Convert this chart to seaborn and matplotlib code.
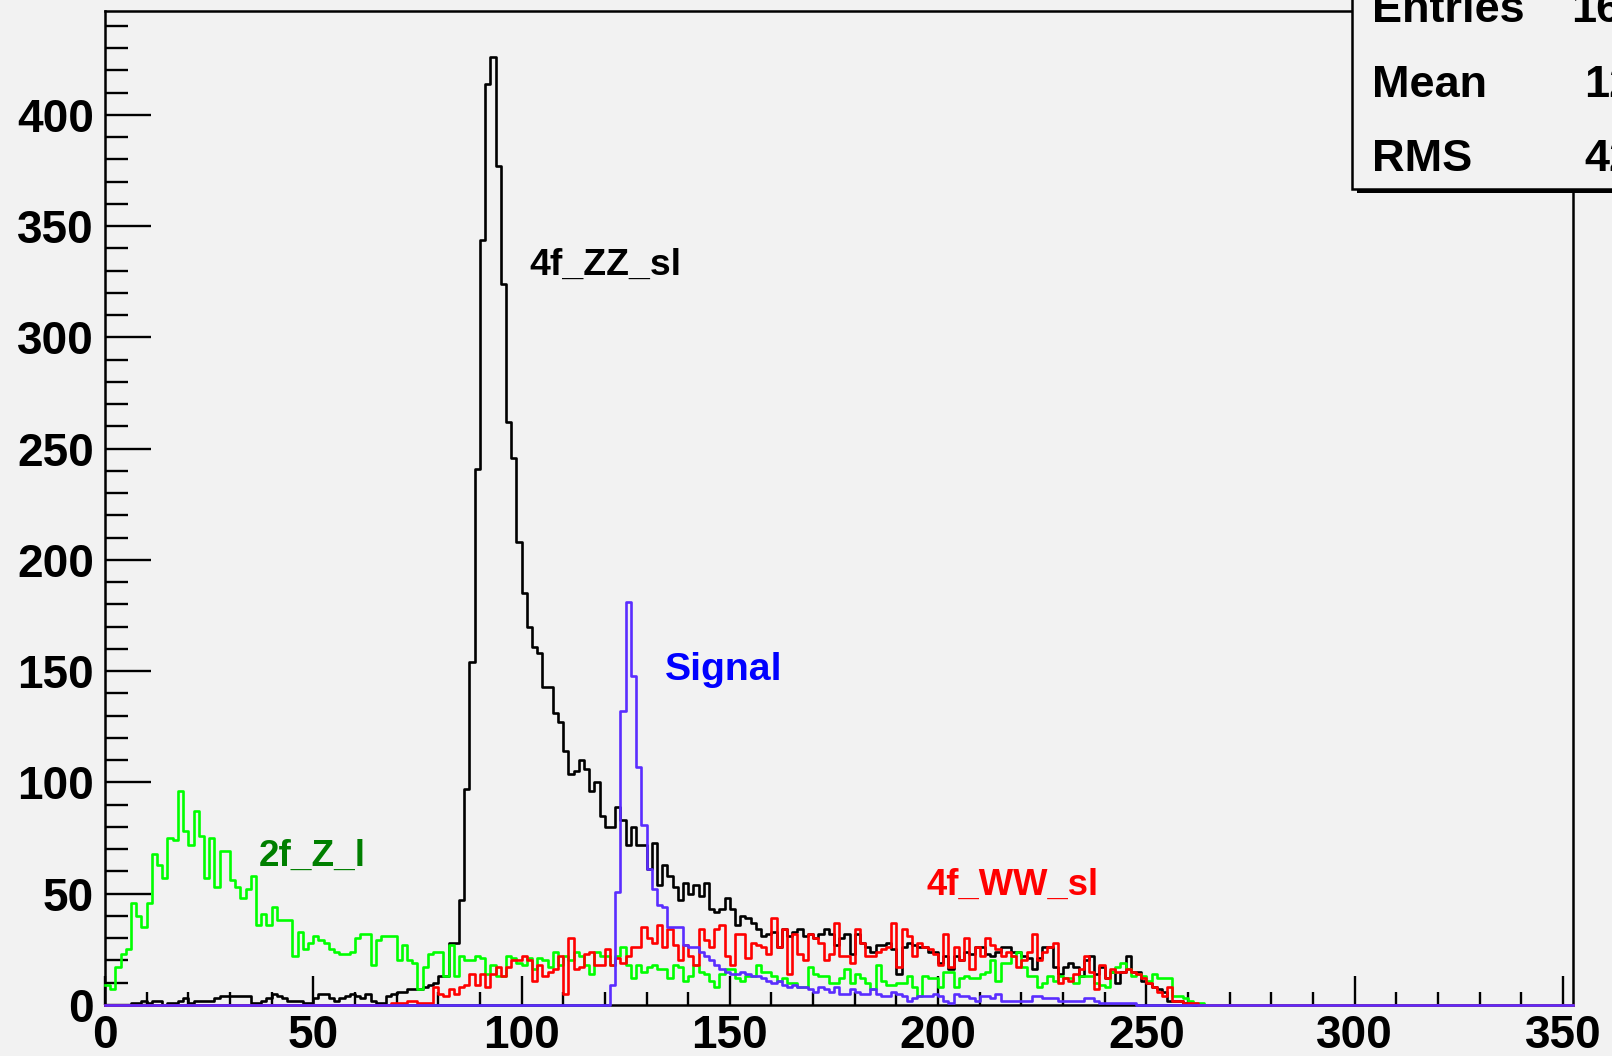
import numpy as np
import pandas as pd
import matplotlib
matplotlib.use("Agg")
import matplotlib.pyplot as plt
from matplotlib import font_manager as fm
from matplotlib.patches import Rectangle
from matplotlib.ticker import MultipleLocator
import seaborn as sns

# ---------------- data (bin contents) ----------------
BIN_WIDTH = 1.25
X_MAX = 352.5
Y_MAX = 446.7

# 4f_ZZ_sl (black), first bin index 0
zz_start = 0
zz_counts = [0, 0, 0, 0, 0, 1, 1, 2, 1, 2, 2, 0, 1, 1, 2, 3, 1, 2, 2, 2,
             2, 3, 4, 4, 4, 4, 4, 4, 1, 1, 2, 3, 5, 4, 3, 2, 2, 2, 1, 1,
             3, 5, 5, 3, 2, 3, 4, 5, 4, 3, 5, 2, 1, 1, 4, 5, 6, 6, 7, 7,
             7, 8, 9, 10, 13, 13, 28, 28, 47, 97,
             154, 241, 344, 414, 426, 377, 324, 262, 246, 208,
             185, 170, 161, 158, 143, 143, 131, 127, 114, 104,
             105, 110, 106, 96, 100, 85, 80, 80, 89, 83,
             72, 80, 72, 72, 61, 73, 54, 63, 58, 53,
             47, 55, 50, 54, 49, 55, 43, 42, 43, 48, 43, 36,
             40, 39, 37, 34, 31, 32, 33, 26, 34, 31, 33, 34, 31, 32, 30, 32, 34, 32, 27, 30,
             32, 23, 32, 28, 26, 24, 27, 27, 28, 25, 14, 26, 28, 27, 26, 26, 24, 24, 19, 22,
             16, 22, 20, 24, 23, 26, 26, 23, 22, 24,
             26, 26, 24, 24, 22, 21, 16, 21, 26, 26, 17, 14, 17, 19, 17, 13, 20, 22, 14, 17,
             12, 15, 10, 15, 22, 15, 15, 11, 10, 8, 7, 6, 2, 2, 2, 1, 1]

# 2f_Z_l (green), first bin index 0
zl_start = 0
zl_counts = [9, 7, 17, 23, 25, 46, 40, 35, 46, 68, 63, 57, 75, 74, 96, 78, 72, 87, 76, 57,
             75, 53, 69, 69, 56, 53, 48, 52, 58, 36, 41, 36, 44, 38, 38, 38, 22, 33, 25, 28,
             31, 29, 28, 25, 24, 23, 23, 24, 30, 32, 32, 18, 29, 31, 31, 31, 20, 27, 20, 19,
             7, 17, 23,
             24, 24, 13, 27, 13, 22, 20, 20, 22, 21, 14, 18, 13, 13, 22, 21, 19, 18, 21, 16,
             21, 20, 17, 24, 18, 22, 20, 24, 22, 18, 14, 24, 22, 22, 18, 22, 26, 18, 12, 18,
             15, 17, 18, 16, 16, 12, 18, 17, 11, 13, 18, 15, 14, 11, 8, 14, 16, 16, 12, 11,
             13, 13,
             18, 15, 15, 13, 11, 12, 10, 10, 8, 8, 17, 14, 13, 13, 10, 10, 12, 16, 10, 14,
             12, 10, 7, 18, 11, 9, 9, 10, 10, 13, 8, 4, 13, 12, 12, 8, 15, 15, 8, 12,
             13, 12, 12, 14, 15, 20, 11,
             19, 19, 22, 24, 17, 13, 13, 8, 10, 13, 11, 13, 12, 12, 10, 13, 13, 13, 10, 9,
             8, 15, 17, 19, 16, 13, 14, 13, 11, 14, 12, 12, 12, 4, 4, 3, 2, 1, 1]

# 4f_WW_sl (red), first bin index 55
ww_start = 55
ww_counts = [1, 1, 1, 2, 2, 1, 1, 1,
             8, 5, 4, 7, 5, 8, 9, 14, 9, 14, 8, 14, 17, 13, 17, 20, 20, 22, 20, 11,
             18, 13, 15, 16, 22, 5, 30, 16, 17, 23, 24, 18, 18, 25, 18, 21, 19, 22, 26, 26,
             35, 30, 28, 36, 26, 34, 27, 20, 27, 22, 18, 34, 29, 26, 34, 36, 22, 18, 32,
             32, 21, 28, 27, 26, 23, 39, 26, 34, 14, 32, 23, 20, 32, 30, 28, 20, 23, 37, 22,
             22, 19, 34, 28, 22, 22, 24, 25, 26, 37, 17, 34, 31, 22, 28, 26, 25, 23, 18, 32,
             17, 26, 20, 30, 16, 26, 22, 30, 27, 25,
             22, 24, 22, 17, 20, 24, 32, 20, 24, 26, 28, 10, 12, 11, 14, 16, 22, 15, 7, 18,
             12, 16, 15, 15, 16, 15, 14, 12, 10, 8, 6, 4, 8, 2, 2, 1, 1, 1, 0]

# Signal (blue), first bin index 97
sig_start = 97
sig_counts = [9, 51, 132, 181, 148, 107, 81, 61, 52, 45, 44, 35, 35, 35, 27, 26, 26, 24, 22, 20,
              18, 16, 15, 14, 14,
              15, 14, 13, 13, 12, 11, 10, 11, 9, 8, 9, 8, 8, 7, 6, 8, 7, 6, 8, 5,
              5, 7, 6, 5, 5, 7, 5, 4, 4, 6, 5, 4, 2, 3, 4, 4, 4, 5, 4, 2,
              1, 5, 4, 4, 3, 2, 4, 4, 3, 5,
              2, 2, 2, 2, 2, 2, 4, 4, 3, 3, 3, 2, 2, 2, 2, 2, 3, 3, 2, 1,
              1, 1, 1, 1, 1, 1, 0, 0]

series_names = ["4f_ZZ_sl", "2f_Z_l", "4f_WW_sl", "Signal"]
x_ticks = [0, 50, 100, 150, 200, 250, 300, 350]
y_ticks = [0, 50, 100, 150, 200, 250, 300, 350, 400]
stat_names = ["Entries", "Mean", "RMS"]
stat_values = ["16540", "124.3", "42.58"]

# ---------------- styling ----------------
W, H = 1612, 1056
BG = "#f2f2f2"
LINE_COLORS = {"4f_ZZ_sl": "#000000", "2f_Z_l": "#00ff00",
               "4f_WW_sl": "#ff0000", "Signal": "#5a2dff"}
TEXT_COLORS = {"4f_ZZ_sl": "#000000", "2f_Z_l": "#007f00",
               "4f_WW_sl": "#ff0000", "Signal": "#0000ff"}
# label anchor (left, baseline) in data units
LABEL_POS = {"4f_ZZ_sl": (101.8, 328), "Signal": (134.4, 146),
             "2f_Z_l": (37.0, 62.5), "4f_WW_sl": (197.3, 49.4)}
LABEL_SIZE = {"4f_ZZ_sl": 32.4, "Signal": 34.0, "2f_Z_l": 32.0, "4f_WW_sl": 31.6}

installed = {f.name for f in fm.fontManager.ttflist}
HAS_NARROW = "Liberation Sans Narrow" in installed
NARROW = "Liberation Sans Narrow" if HAS_NARROW else "Liberation Sans"
NARROW_SCALE = 1.0 if HAS_NARROW else 0.83
BOLD = "Liberation Sans" if "Liberation Sans" in installed else "DejaVu Sans"

plt.rcParams["font.family"] = [BOLD, "DejaVu Sans"]

edges = np.arange(0, X_MAX + BIN_WIDTH / 2, BIN_WIDTH)
centers = edges[:-1] + BIN_WIDTH / 2
nbins = len(centers)


def full_counts(start, counts):
    arr = np.zeros(nbins)
    arr[start:start + len(counts)] = counts
    return arr


frames = []
for name, start, counts in [("4f_ZZ_sl", zz_start, zz_counts),
                            ("2f_Z_l", zl_start, zl_counts),
                            ("4f_WW_sl", ww_start, ww_counts),
                            ("Signal", sig_start, sig_counts)]:
    frames.append(pd.DataFrame({"mass": centers,
                                "count": full_counts(start, counts),
                                "sample": name}))
df = pd.concat(frames, ignore_index=True)

fig = plt.figure(figsize=(W / 100, H / 100), dpi=100)
fig.patch.set_facecolor(BG)
ax = fig.add_axes([105 / W, 51 / H, 1468.3 / W, 994 / H])
ax.set_facecolor(BG)

for i, name in enumerate(series_names):
    sns.histplot(data=df[df["sample"] == name], x="mass", weights="count",
                 bins=nbins, binrange=(0, X_MAX), element="step", fill=False,
                 color=LINE_COLORS[name], linewidth=1.9, ax=ax,
                 zorder=3 + i, clip_on=False)

ax.set_xlim(0, X_MAX)
ax.set_ylim(0, Y_MAX)
ax.set_xlabel("")
ax.set_ylabel("")

for sp in ax.spines.values():
    sp.set_color("black")
    sp.set_linewidth(1.8)

ax.set_xticks(x_ticks)
ax.set_yticks(y_ticks)
ax.xaxis.set_minor_locator(MultipleLocator(10))
ax.yaxis.set_minor_locator(MultipleLocator(10))
ax.tick_params(axis="x", which="major", direction="in", length=20.9, width=1.7,
               pad=6.5, labelsize=33, color="black")
ax.tick_params(axis="x", which="minor", direction="in", length=9.6, width=1.7)
ax.tick_params(axis="y", which="major", direction="in", length=33, width=1.7,
               pad=8, labelsize=33)
ax.tick_params(axis="y", which="minor", direction="in", length=16.5, width=1.7)
ax.set_xticklabels([str(t) for t in x_ticks])
ax.set_yticklabels([str(t) for t in y_ticks])
for lab in ax.get_xticklabels() + ax.get_yticklabels():
    lab.set_fontfamily(BOLD)
    lab.set_fontweight("bold")

for name in series_names:
    x0, y0 = LABEL_POS[name]
    ax.text(x0, y0, name, color=TEXT_COLORS[name], fontfamily=NARROW,
            fontweight="bold", fontsize=LABEL_SIZE[name] * NARROW_SCALE,
            ha="left", va="baseline", zorder=10)

# statistics box (partly outside the canvas, as in the reference)
bx, by = 1351.7, 189.3
shadow = Rectangle(((bx + 5) / W, 1 - (by + 3.5) / H), 400 / W, 400 / H,
                   transform=fig.transFigure, facecolor="black",
                   edgecolor="none", zorder=5)
box = Rectangle((bx / W, 1 - by / H), 400 / W, 400 / H,
                transform=fig.transFigure, facecolor=BG, edgecolor="black",
                linewidth=1.8, zorder=6)
fig.add_artist(shadow)
fig.add_artist(box)
for nm, val, base in zip(stat_names, stat_values, [22.0, 96.7, 170.7]):
    fig.text(1371.7 / W, 1 - base / H, nm, ha="left", va="baseline",
             fontsize=32.5, fontweight="bold", fontfamily=BOLD, zorder=7)
    fig.text(1697 / W, 1 - base / H, val, ha="right", va="baseline",
             fontsize=32.5, fontweight="bold", fontfamily=BOLD, zorder=7)

fig.savefig("out.png", dpi=100, facecolor=BG)
